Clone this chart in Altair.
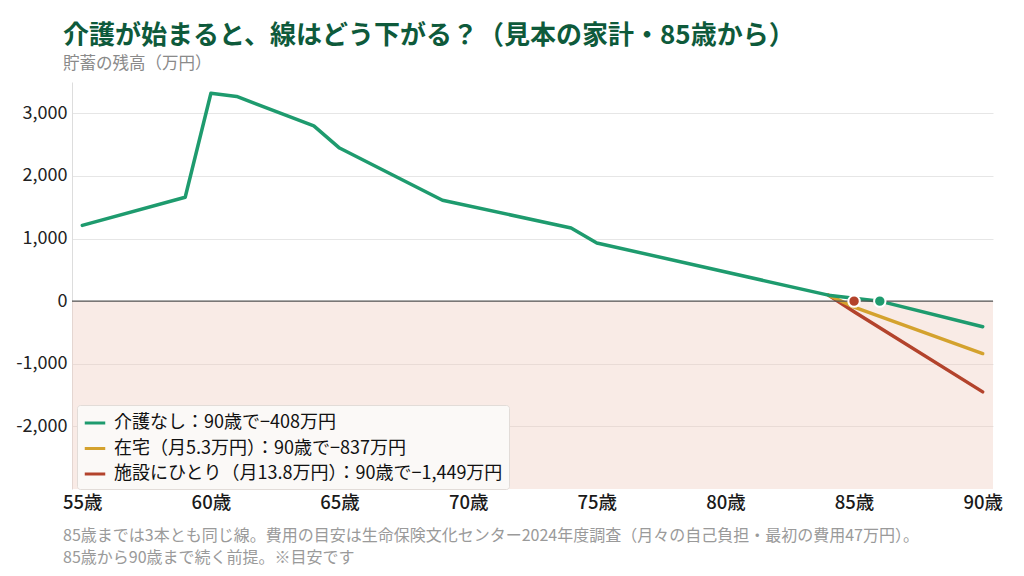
import altair as alt
import pandas as pd

# series values (万円)
names = [
    "介護なし：90歳で−408万円",
    "在宅（月5.3万円）：90歳で−837万円",
    "施設にひとり（月13.8万円）：90歳で−1,449万円",
]
colors = ["#1e9b6e", "#d4a22e", "#b3432c"]

base_age = [55, 59, 60, 61, 64, 65, 69, 74, 75, 84, 86, 90]
base_val = [1210, 1660, 3320, 3270, 2800, 2445, 1611, 1169, 930, 96, 0, -408]

home_age = [84, 85, 90]
home_val = [96, -95, -837]

facility_age = [84, 85, 90]
facility_val = [96, -170, -1449]

dot_age = [85, 86]
dot_val = [0, 0]
dot_color = ["#b3432c", "#1e9b6e"]

x_ticks = [55, 60, 65, 70, 75, 80, 85, 90]
y_ticks = [-2000, -1000, 0, 1000, 2000, 3000]

title = "介護が始まると、線はどう下がる？（見本の家計・85歳から）"
subtitle = "貯蓄の残高（万円）"
note = ("85歳までは3本とも同じ線。費用の目安は生命保険文化センター2024年度調査（月々の自己負担・最初の費用47万円）。\n"
        "85歳から90歳まで続く前提。※目安です")

FONT = "Noto Sans CJK JP"

lines = pd.concat([
    pd.DataFrame({"age": facility_age, "value": facility_val, "series": names[2], "z": 0}),
    pd.DataFrame({"age": home_age, "value": home_val, "series": names[1], "z": 1}),
    pd.DataFrame({"age": base_age, "value": base_val, "series": names[0], "z": 2}),
])
dots = pd.DataFrame({"age": dot_age, "value": dot_val, "c": dot_color})

xs = alt.Scale(domain=[54.6, 90.4], nice=False, zero=False)
ys = alt.Scale(domain=[-3000, 3500], nice=False, zero=False)

x_axis = alt.Axis(values=x_ticks, labelExpr="datum.value + '歳'", grid=False,
                  domain=False, ticks=False, labelFontSize=18.5, labelFontWeight=500,
                  labelColor="#1a1a1a", labelPadding=4, title=None)
y_axis = alt.Axis(values=y_ticks, grid=True, gridColor="#e6e6e6", domainColor="#dddddd",
                  ticks=False, labelFontSize=18, labelColor="#222222", labelPadding=5,
                  labelExpr="datum.value < 0 ? '-' + format(-datum.value, ',') : format(datum.value, ',')",
                  title=None)

neg = alt.Chart(pd.DataFrame({"a": [0]})).mark_rect(color="#efcbbd", opacity=0.38).encode(
    x=alt.value(0), x2=alt.value(921),
    y=alt.datum(0, scale=ys), y2=alt.datum(-3000),
)

zero = alt.Chart(pd.DataFrame({"a": [0]})).mark_rule(color="#555555", strokeWidth=1.2).encode(
    y=alt.datum(0), x=alt.value(0), x2=alt.value(921)
)

line = alt.Chart(lines).mark_line(strokeWidth=3.5, strokeCap="round", strokeJoin="round").encode(
    x=alt.X("age:Q", scale=xs, axis=x_axis),
    y=alt.Y("value:Q", scale=ys, axis=y_axis),
    color=alt.Color("series:N", scale=alt.Scale(domain=names, range=colors),
                    legend=alt.Legend(title=None, orient="none", legendX=5, legendY=323,
                                      symbolType="stroke", symbolStrokeWidth=3, symbolSize=420,
                                      labelFontSize=18, labelColor="#111111", labelLimit=700,
                                      labelOffset=7, rowPadding=4.5, padding=6,
                                      fillColor="#fbf9f7", strokeColor="#e2dcd8",
                                      cornerRadius=3)),
    detail="series:N",
    order="z:Q",
)

dot = alt.Chart(dots).mark_circle(size=130, opacity=1, stroke="white", strokeWidth=2).encode(
    x=alt.X("age:Q", scale=xs),
    y=alt.Y("value:Q", scale=ys),
    color=alt.Color("c:N", scale=None),
)

foot = alt.Chart(pd.DataFrame({"t": [note]})).mark_text(
    align="left", baseline="top", fontSize=16, color="#9a9a9a", lineBreak="\n",
    lineHeight=22, font=FONT
).encode(x=alt.value(-9), y=alt.value(446), text="t:N")

chart = alt.layer(neg, line, zero, dot, foot).properties(
    width=921, height=407,
    autosize=alt.AutoSizeParams(type="none"),
    padding={"left": 64, "top": 74, "right": 23, "bottom": 79},
    title=alt.Title(title, subtitle=subtitle, anchor="start", frame="group", dx=-9,
                    offset=10, fontSize=26, fontWeight="bold", color="#0e5a3b",
                    subtitleFontSize=16.5, subtitleColor="#8a8a8a", subtitlePadding=7,
                    font=FONT, subtitleFont=FONT),
).configure(font=FONT).configure_view(stroke=None).configure_axis(
    labelFont=FONT
).configure_legend(labelFont=FONT)

chart.save("out.html", embed_options={"renderer": "svg", "actions": False})
